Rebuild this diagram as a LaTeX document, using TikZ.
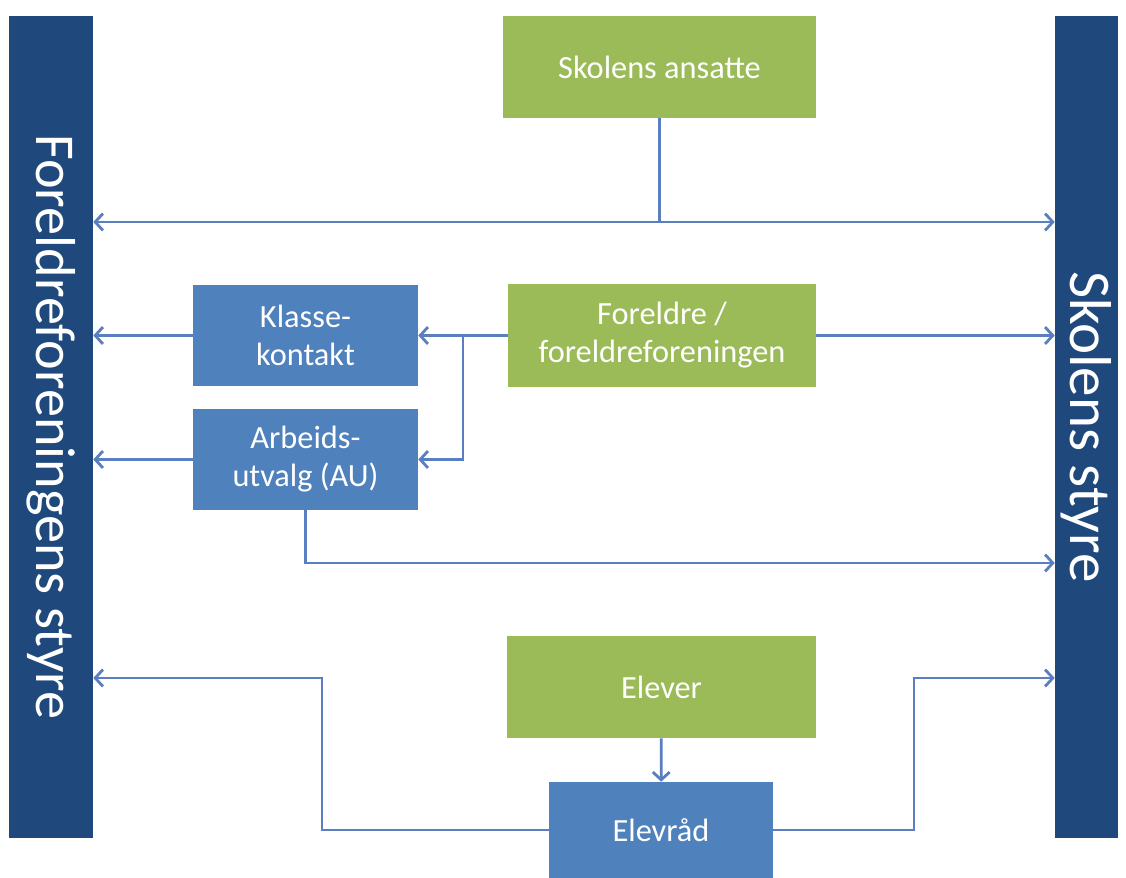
\documentclass[tikz,border=0pt]{standalone}
\usepackage{fontspec}
\setmainfont{Carlito}
\usetikzlibrary{arrows.meta}
\definecolor{boxgreen}{HTML}{9BBB59}
\definecolor{boxblue}{HTML}{4F81BD}
\definecolor{bardark}{HTML}{1F497D}
\definecolor{linkblue}{HTML}{5A7EBF}
\begin{document}
\begin{tikzpicture}[x=0.025cm, y=-0.025cm,
  unit/.style={inner sep=0pt, text=white, align=center, font=\fontsize{23}{27}\selectfont},
  greenbox/.style={unit, fill=boxgreen, minimum height=2.55cm},
  bluebox/.style={unit, fill=boxblue, minimum height=2.525cm},
  sidebar/.style={inner sep=0pt, fill=bardark, text=white, minimum height=20.55cm},
  link/.style={linkblue, line width=2pt},
  arr/.style={link, -{Straight Barb[length=5.5pt,width=12pt,line width=2pt]}}]
\useasboundingbox (0,0) rectangle (1126,878);

\node[sidebar, minimum width=2.1cm] (lbar) at (51,427)
  {\rotatebox{-90}{\fontsize{40}{40}\selectfont Foreldreforeningens styre}};
\node[sidebar, minimum width=1.575cm] (rbar) at (1086.5,427)
  {\rotatebox{-90}{\fontsize{42}{42}\selectfont Skolens styre}};

\node[greenbox, minimum width=7.825cm] (ansatte) at (659.5,67) {Skolens ansatte};
\node[greenbox, minimum width=7.7cm] (foreldre) at (662,335.5) {Foreldre /\\foreldreforeningen};
\node[bluebox, minimum width=5.625cm] (klasse) at (305.5,335.5) {Klasse-\\kontakt};
\node[bluebox, minimum width=5.625cm] (au) at (305.5,459.5) {Arbeids-\\utvalg (AU)};
\node[greenbox, minimum width=7.725cm] (elever) at (661.5,687) {Elever};
\node[bluebox, minimum width=5.6cm, minimum height=2.4cm] (elevrad) at (661,830) {Elevråd};

\coordinate (top) at (ansatte.south |- 0,222);
\coordinate (split) at (463,335.5);
\draw[link] (ansatte) -- (top);
\draw[arr] (top) -- (top -| lbar.east);
\draw[arr] (top) -- (top -| rbar.west);
\draw[arr] (foreldre) -- (klasse);
\draw[arr] (split) |- (au);
\draw[arr] (foreldre) -- (foreldre -| rbar.west);
\draw[arr] (klasse) -- (klasse -| lbar.east);
\draw[arr] (au) -- (au -| lbar.east);
\draw[arr] (au.south) |- (rbar.west |- 0,563);
\draw[arr] (elever) -- (elevrad);
\draw[arr] (elevrad) -| (322,678) -- (lbar.east |- 0,678);
\draw[arr] (elevrad) -| (914,678) -- (rbar.west |- 0,678);
\end{tikzpicture}
\end{document}
